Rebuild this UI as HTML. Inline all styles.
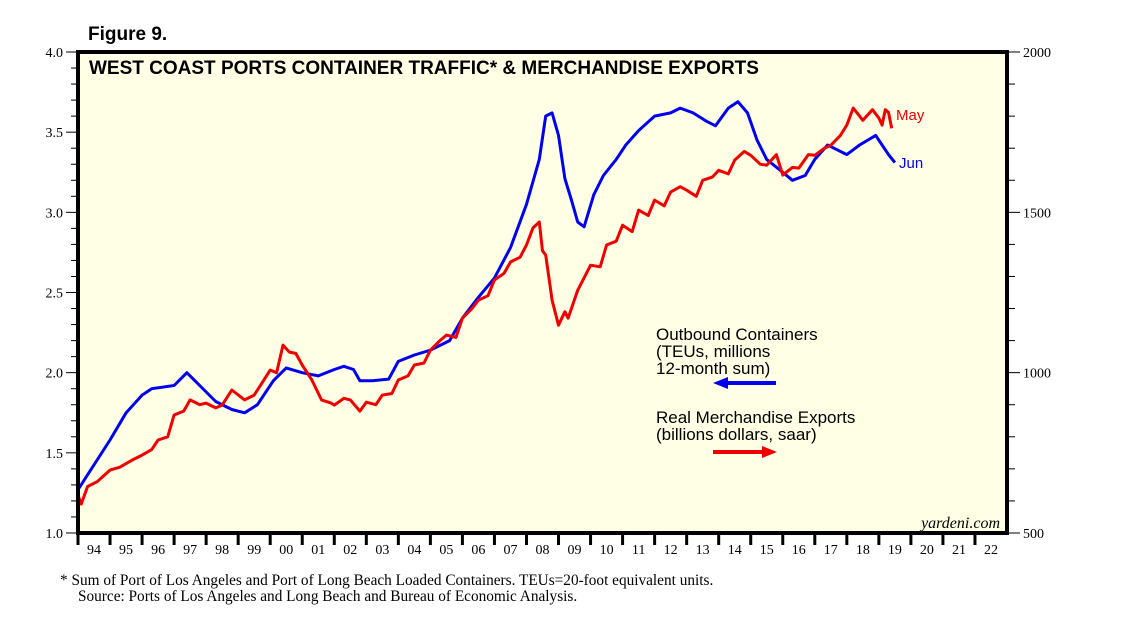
<!DOCTYPE html>
<html><head><meta charset="utf-8"><style>
body{margin:0;background:#fff;width:1138px;height:622px;overflow:hidden}
svg{display:block}
</style></head><body>
<svg id="c" width="1138" height="622" font-family="Liberation Sans, sans-serif">
<text x="88" y="40" font-size="19" font-weight="bold">Figure 9.</text>
<rect x="78" y="52" width="929" height="481" fill="#ffffe6"/>
<g id="marks"></g>
<rect x="78" y="52" width="929" height="481" fill="none" stroke="#000" stroke-width="4"/>
<text x="89" y="74" font-size="19" font-weight="bold">WEST COAST PORTS CONTAINER TRAFFIC* &amp; MERCHANDISE EXPORTS</text>
<text x="1000" y="528" font-size="16" font-style="italic" font-family="Liberation Serif, serif" text-anchor="end">yardeni.com</text>
<g font-size="17">
<text x="656" y="340">Outbound Containers</text>
<text x="656" y="357">(TEUs, millions</text>
<text x="656" y="374">12-month sum)</text>
<line x1="720" y1="383" x2="776" y2="383" stroke="#0000ee" stroke-width="4"/>
<polygon points="713,383 728,377 728,389" fill="#0000ee"/>
<text x="656" y="423">Real Merchandise Exports</text>
<text x="656" y="440">(billions dollars, saar)</text>
<line x1="713" y1="452" x2="770" y2="452" stroke="#ee0000" stroke-width="4"/>
<polygon points="777,452 762,446 762,458" fill="#ee0000"/>
</g>
<text x="896" y="120" font-size="15" fill="#ee0000">May</text>
<text x="899" y="168" font-size="15" fill="#0000ee">Jun</text>
<g font-family="Liberation Serif, serif" font-size="15.3">
<text x="60" y="585">*   Sum of Port of Los Angeles and Port of Long Beach Loaded Containers. TEUs=20-foot equivalent units.</text>
<text x="78" y="601">Source: Ports of Los Angeles and Long Beach and Bureau of Economic Analysis.</text>
</g>
<g id="axes"></g>
</svg>
<script>
const blueX=[1994.0,1995,1995.5,1996,1996.3,1997,1997.4,1997.8,1998.3,1998.8,1999.2,1999.6,2000.1,2000.5,2001,2001.5,2002,2002.3,2002.6,2002.8,2003.2,2003.7,2004,2004.5,2005,2005.6,2006,2006.5,2007,2007.5,2008,2008.4,2008.6,2008.8,2009.0,2009.2,2009.4,2009.6,2009.8,2010.1,2010.4,2010.8,2011.1,2011.5,2012,2012.5,2012.8,2013.2,2013.6,2013.9,2014.3,2014.6,2014.9,2015.2,2015.5,2016,2016.3,2016.7,2017,2017.4,2017.7,2018,2018.4,2018.9,2019.1,2019.3,2019.5];
const blueV=[1.27,1.58,1.75,1.86,1.90,1.92,2.0,1.92,1.82,1.77,1.75,1.80,1.95,2.03,2.0,1.98,2.02,2.04,2.02,1.95,1.95,1.96,2.07,2.11,2.14,2.2,2.34,2.47,2.59,2.78,3.05,3.33,3.6,3.62,3.48,3.21,3.08,2.94,2.91,3.11,3.23,3.33,3.42,3.51,3.6,3.62,3.65,3.62,3.57,3.54,3.65,3.69,3.62,3.45,3.33,3.25,3.2,3.23,3.33,3.42,3.39,3.36,3.42,3.48,3.42,3.36,3.31];
const redX=[1994.0,1994.1,1994.3,1994.6,1995,1995.3,1995.7,1996,1996.3,1996.5,1996.8,1997,1997.3,1997.5,1997.8,1998,1998.3,1998.5,1998.8,1999.2,1999.5,1999.7,2000,2000.2,2000.4,2000.6,2000.8,2001,2001.3,2001.6,2001.9,2002,2002.3,2002.5,2002.8,2003,2003.3,2003.5,2003.8,2004,2004.3,2004.5,2004.8,2005,2005.3,2005.5,2005.8,2006,2006.3,2006.5,2006.8,2007,2007.3,2007.5,2007.8,2008,2008.2,2008.4,2008.5,2008.6,2008.8,2009.0,2009.2,2009.3,2009.6,2010,2010.3,2010.5,2010.8,2011,2011.3,2011.5,2011.8,2012,2012.3,2012.5,2012.8,2013,2013.3,2013.5,2013.8,2014,2014.3,2014.5,2014.8,2015,2015.3,2015.5,2015.8,2016,2016.3,2016.5,2016.8,2017,2017.3,2017.5,2017.8,2018,2018.2,2018.4,2018.5,2018.8,2019.0,2019.1,2019.2,2019.3,2019.4];
const redV=[618,590,645,660,696,705,728,743,760,790,800,868,880,915,900,905,890,899,946,915,930,961,1008,1000,1086,1064,1060,1024,977,915,905,899,920,915,880,908,900,930,935,977,990,1024,1030,1070,1100,1117,1110,1170,1200,1226,1240,1289,1310,1345,1360,1398,1451,1470,1380,1367,1226,1148,1190,1170,1257,1335,1330,1398,1410,1460,1440,1507,1490,1538,1520,1563,1580,1569,1550,1600,1610,1631,1620,1663,1690,1678,1650,1647,1680,1616,1640,1638,1680,1678,1700,1709,1740,1772,1825,1800,1787,1820,1794,1772,1820,1812,1762,1812];
const leftTicks=["1.0","1.5","2.0","2.5","3.0","3.5","4.0"];
const rightTicks=["500","1000","1500","2000"];
const yearLabels=["94","95","96","97","98","99","00","01","02","03","04","05","06","07","08","09","10","11","12","13","14","15","16","17","18","19","20","21","22"];
const X0=78,X1=1007,Y0=533,Y1=52;
const xs=t=>X0+(t-1994)/29*(X1-X0);
const yl=v=>Y0-(v-1)/3*(Y0-Y1);
const yr=v=>Y0-(v-500)/1500*(Y0-Y1);
const NS='http://www.w3.org/2000/svg';
function mk(tag,attrs,parent){const e=document.createElementNS(NS,tag);for(const k in attrs)e.setAttribute(k,attrs[k]);parent.appendChild(e);return e;}
const marks=document.getElementById('marks'),axes=document.getElementById('axes');
let pb=mk('path',{d:blueX.map((t,i)=>(i?'L':'M')+xs(t).toFixed(1)+','+yl(blueV[i]).toFixed(1)).join(''),fill:'none',stroke:'#0000ee','stroke-width':3,'stroke-linejoin':'round'},marks);


let pr=mk('path',{d:redX.map((t,i)=>(i?'L':'M')+xs(t).toFixed(1)+','+yr(redV[i]).toFixed(1)).join(''),fill:'none',stroke:'#ee0000','stroke-width':3,'stroke-linejoin':'round'},marks);


for(let i=0;i<=30;i++){const v=1+i*0.1,y=yl(v),major=i%5==0;
 let l=mk('line',{x1:major?66:71,x2:X0,y1:y,y2:y,stroke:'#000','stroke-width':1},axes);
 
 }
leftTicks.forEach(s=>{const t=mk('text',{x:63,y:yl(+s)+5,'font-size':14,'text-anchor':'end','font-family':'Liberation Serif, serif'},axes);t.textContent=s;
 
 });
for(let i=0;i<=15;i++){const v=500+i*100,y=yr(v),major=i%5==0;
 let l=mk('line',{x1:X1,x2:major?1020:1015,y1:y,y2:y,stroke:'#000','stroke-width':1},axes);
 
 }
rightTicks.forEach(s=>{const t=mk('text',{x:1023,y:yr(+s)+5,'font-size':14,'font-family':'Liberation Serif, serif'},axes);t.textContent=s;
 
 });
yearLabels.forEach((s,i)=>{const x=xs(1994+i);
 let l=mk('line',{x1:x,x2:x,y1:Y0,y2:Y0+12,stroke:'#000','stroke-width':3},axes);
 
 
 const t=mk('text',{x:xs(1994.5+i),y:554,'font-size':14,'text-anchor':'middle','font-family':'Liberation Serif, serif'},axes);t.textContent=s;
 
 });
</script>
</body></html>
